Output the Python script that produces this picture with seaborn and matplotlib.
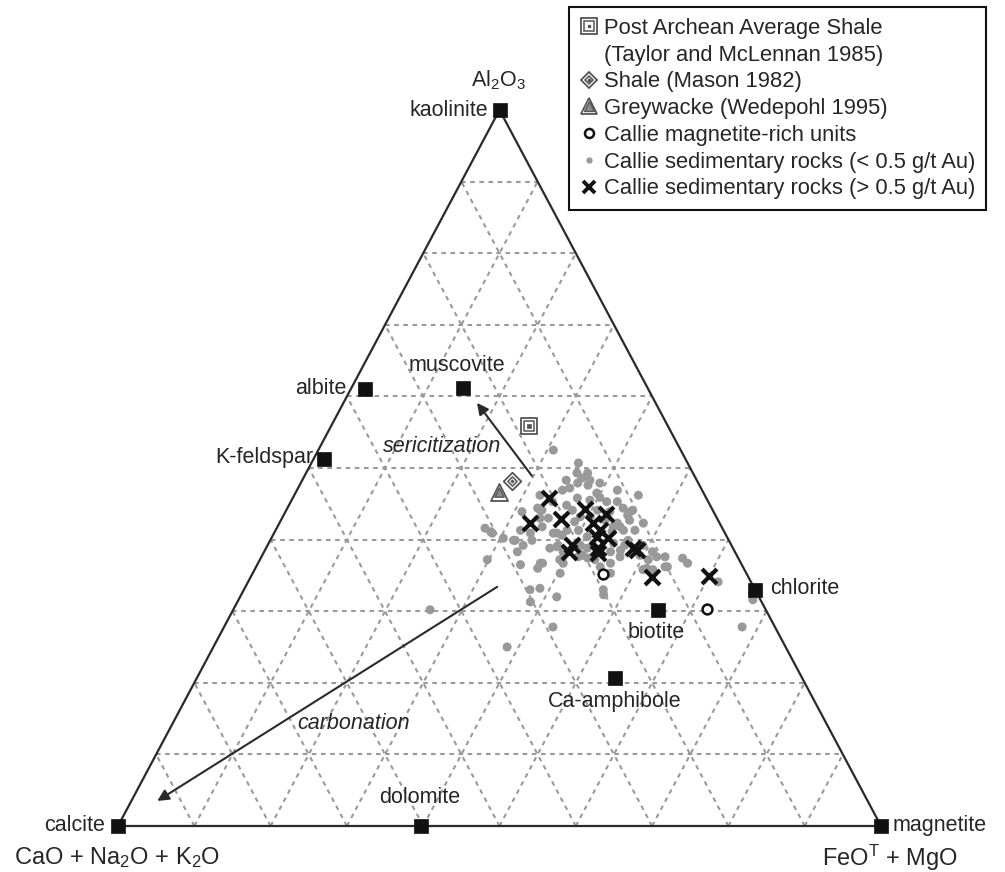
import numpy as np
import pandas as pd
import matplotlib
matplotlib.use("Agg")
import matplotlib.pyplot as plt
import seaborn as sns
from matplotlib.lines import Line2D
from matplotlib.legend_handler import HandlerTuple

# ---------------- data: ternary compositions in % ----------------
# al = Al2O3, fm = FeO^T + MgO, remainder = CaO + Na2O + K2O
mineral_names = ["kaolinite", "albite", "muscovite", "K-feldspar", "chlorite",
                 "biotite", "Ca-amphibole", "dolomite", "calcite", "magnetite"]
mineral_al = [100.0, 61.0, 61.2, 51.3, 33.0, 30.2, 20.7, 0.0, 0.0, 0.0]
mineral_fm = [0.0, 1.9, 14.6, 1.4, 67.0, 55.7, 54.8, 39.7, 0.0, 100.0]

paas_al, paas_fm = [55.9], [25.9]          # Post Archean Average Shale
shale_al, shale_fm = [48.2], [27.5]        # Shale (Mason 1982)
grey_al, grey_fm = [46.6], [26.6]          # Greywacke (Wedepohl 1995)

mag_al = [35.2, 30.3]                      # Callie magnetite-rich units
mag_fm = [46.0, 62.0]

low_al = [52.5, 50.7, 49.3, 49.3, 48.6, 48.3, 47.9, 47.6, 48.3, 47.2,
          46.9, 47.9, 46.9, 46.2, 46.5, 45.9, 45.3, 45.8, 45.5, 45.3,
          44.1, 44.8, 45.3, 44.4, 43.4, 44.1, 42.7, 42.3, 43.0, 43.0,
          43.9, 39.9, 39.2, 39.9, 41.8, 40.9, 40.6, 41.3, 41.3, 40.4,
          39.2, 39.2, 38.8, 36.7, 37.2, 37.8, 38.3, 38.5, 39.2, 39.2,
          37.8, 37.6, 37.6, 36.0, 35.8, 40.2, 46.2, 44.4, 44.1, 43.2,
          41.1, 41.8, 40.9, 38.3, 38.8, 36.2, 37.2, 37.6, 36.7, 36.2,
          37.4, 37.6, 36.7, 36.7, 36.5, 37.4, 36.7, 35.3, 33.0, 33.2,
          32.0, 31.3, 32.3, 41.1, 41.6, 31.6, 34.1, 30.2, 27.8, 25.0,
          37.2, 27.8, 42.3, 41.3, 39.5, 38.3, 35.8, 35.3, 33.0, 38.3,
          40.9, 39.9, 44.1, 40.9, 44.1, 42.7, 42.5, 37.2, 39.9, 43.9,
          41.8, 43.2, 41.3, 41.3, 43.9, 36.2, 36.0, 39.0]
low_fm = [30.8, 35.0, 35.5, 36.9, 36.5, 37.7, 36.3, 37.8, 34.6, 35.6,
          34.8, 39.2, 42.0, 45.1, 39.5, 40.2, 41.4, 37.3, 39.1, 34.3,
          33.5, 36.4, 42.8, 44.0, 45.1, 45.4, 45.7, 44.3, 33.8, 34.9,
          31.0, 31.9, 33.5, 34.3, 34.7, 36.6, 37.9, 38.2, 39.7, 41.3,
          41.0, 38.1, 37.2, 37.3, 39.3, 42.0, 45.4, 46.6, 46.8, 49.2,
          49.5, 51.8, 52.9, 51.3, 52.2, 30.4, 32.2, 32.8, 37.5, 39.0,
          44.2, 44.9, 33.6, 39.2, 42.1, 53.6, 50.9, 47.0, 46.2, 45.1,
          42.9, 41.5, 40.0, 37.0, 34.5, 55.3, 56.3, 40.3, 37.5, 38.7,
          41.5, 38.4, 47.5, 28.3, 27.3, 67.4, 61.6, 25.8, 43.1, 38.5,
          29.8, 67.9, 47.7, 45.6, 45.2, 50.9, 50.9, 46.9, 47.1, 33.2,
          28.6, 32.1, 33.3, 37.1, 40.8, 42.5, 38.6, 43.9, 46.9, 42.5,
          44.0, 40.3, 32.1, 47.1, 45.2, 53.9, 37.0, 38.0]

high_al = [45.8, 42.3, 42.9, 44.3, 43.6, 42.3, 41.3, 40.4, 40.2, 38.8,
           39.2, 38.3, 38.8, 38.5, 34.8, 34.9, 38.1]
high_fm = [33.6, 32.9, 36.6, 39.0, 42.2, 41.1, 42.5, 42.6, 44.1, 43.5,
           39.9, 40.0, 48.1, 48.8, 52.6, 60.0, 43.8]

arrow_names = ["sericitization", "carbonation"]
arrow_tail_al = [48.9, 33.4]
arrow_tail_fm = [29.8, 33.0]
arrow_head_al = [59.1, 3.5]
arrow_head_fm = [17.5, 3.4]

legend_labels = ["Post Archean Average Shale", "(Taylor and McLennan 1985)",
                 "Shale (Mason 1982)", "Greywacke (Wedepohl 1995)",
                 "Callie magnetite-rich units",
                 "Callie sedimentary rocks (< 0.5 g/t Au)",
                 "Callie sedimentary rocks (> 0.5 g/t Au)"]

# ---------------- helpers ----------------
def tern_xy(al, fm):
    al = np.asarray(al, dtype=float) / 100.0
    fm = np.asarray(fm, dtype=float) / 100.0
    return fm + al / 2.0, al

def tern_df(al, fm):
    x, y = tern_xy(al, fm)
    return pd.DataFrame({"x": x, "y": y})

W, H = 1005, 872
X0, XS, Y0, YS = 118, 763, 826, 716   # layout of the triangle in the figure

def px(x, y):
    return (x - X0) / XS, (Y0 - y) / YS

# ---------------- style ----------------
sns.set_theme(style="white")
plt.rcParams["font.family"] = ["Liberation Sans", "DejaVu Sans"]
plt.rcParams["mathtext.default"] = "regular"
TXT = "#262626"

fig = plt.figure(figsize=(W / 100, H / 100), dpi=100)
ax = fig.add_axes([0, 0, 1, 1])
ax.set_xlim(-X0 / XS, (W - X0) / XS)
ax.set_ylim(-(H - Y0) / YS, Y0 / YS)
ax.axis("off")

# grid
gkw = dict(color="#9a9a9a", lw=1.5, ls=(0, (2.2, 2.2)), zorder=1)
for k in range(1, 10):
    t = k * 10.0
    for (a1, f1, a2, f2) in [(t, 0, t, 100 - t), (0, t, 100 - t, t), (0, 100 - t, 100 - t, 0)]:
        xs, ys = tern_xy([a1, a2], [f1, f2])
        ax.plot(xs, ys, **gkw)

# triangle
xs, ys = tern_xy([100, 0, 0, 100], [0, 0, 100, 0])
ax.plot(xs, ys, color="#2a2a2a", lw=1.6, zorder=2, solid_joinstyle="miter")

# arrows
for i in range(len(arrow_names)):
    hx, hy = tern_xy(arrow_head_al[i], arrow_head_fm[i])
    tx, ty = tern_xy(arrow_tail_al[i], arrow_tail_fm[i])
    ax.annotate("", xy=(hx, hy), xytext=(tx, ty),
                arrowprops=dict(arrowstyle="-|>", color="#2a2a2a", lw=1.5,
                                mutation_scale=17, shrinkA=0, shrinkB=0), zorder=2)

ax.text(*px(442, 447), "sericitization", style="italic", fontsize=15.5,
        color=TXT, ha="center", va="center")
ax.text(*px(353.5, 723), "carbonation", style="italic", fontsize=15.5,
        color=TXT, ha="center", va="center")

# data points
sns.scatterplot(data=tern_df(low_al, low_fm), x="x", y="y", ax=ax, s=42,
                color="#999999", edgecolor="none", linewidth=0, legend=False, zorder=3)
sns.scatterplot(data=tern_df(high_al, high_fm), x="x", y="y", ax=ax, marker="x",
                s=115, color="#111111", linewidth=3.0, legend=False, zorder=5)
sns.scatterplot(data=tern_df(mag_al, mag_fm), x="x", y="y", ax=ax, marker="o",
                s=50, color="white", edgecolor="#111111", linewidth=1.8,
                legend=False, zorder=6)

REF = "#555555"
dpa = tern_df(paas_al, paas_fm)
sns.scatterplot(data=dpa, x="x", y="y", ax=ax, marker="s", s=135, color="white",
                edgecolor=REF, linewidth=1.3, legend=False, zorder=6)
sns.scatterplot(data=dpa, x="x", y="y", ax=ax, marker="s", s=45, color="white",
                edgecolor=REF, linewidth=1.1, legend=False, zorder=6)
sns.scatterplot(data=dpa, x="x", y="y", ax=ax, marker="s", s=5, color=REF,
                edgecolor=REF, linewidth=0.5, legend=False, zorder=6)
dsh = tern_df(shale_al, shale_fm)
sns.scatterplot(data=dsh, x="x", y="y", ax=ax, marker="D", s=80, color="white",
                edgecolor=REF, linewidth=1.3, legend=False, zorder=6)
sns.scatterplot(data=dsh, x="x", y="y", ax=ax, marker="D", s=22, color="white",
                edgecolor=REF, linewidth=1.1, legend=False, zorder=6)
sns.scatterplot(data=dsh, x="x", y="y", ax=ax, marker="D", s=3, color=REF,
                edgecolor=REF, linewidth=0.5, legend=False, zorder=6)
dgw = tern_df(grey_al, grey_fm)
sns.scatterplot(data=dgw, x="x", y="y", ax=ax, marker="^", s=150, color="white",
                edgecolor=REF, linewidth=1.3, legend=False, zorder=6)
sns.scatterplot(data=dgw, x="x", y="y", ax=ax, marker="^", s=45, color="#8a8a8a",
                edgecolor=REF, linewidth=1.0, legend=False, zorder=6)

# minerals
dmin = tern_df(mineral_al, mineral_fm)
sns.scatterplot(data=dmin, x="x", y="y", ax=ax, marker="s", s=110, color="#111111",
                edgecolor="#111111", linewidth=0.5, legend=False, zorder=7)

label_layout = {
    "kaolinite": (-11, 0, "right"),
    "albite": (-19, 1, "right"),
    "muscovite": (-6, 22, "center"),
    "K-feldspar": (-11, 1, "right"),
    "chlorite": (15, 1, "left"),
    "biotite": (-2, -23, "center"),
    "Ca-amphibole": (0, -24, "center"),
    "dolomite": (-1, 29, "center"),
    "calcite": (-13, 1, "right"),
    "magnetite": (12, 1, "left"),
}
for name, x, y in zip(mineral_names, dmin["x"], dmin["y"]):
    dx, dy, ha = label_layout[name]
    ax.annotate(name, xy=(x, y), xytext=(dx, dy), textcoords="offset pixels",
                ha=ha, va="center", fontsize=15.5, color=TXT, zorder=8)

# corner labels
ax.text(*px(498, 80), r"Al$_2$O$_3$", fontsize=15.5, color=TXT, ha="center", va="center")
ax.text(*px(14, 858), r"CaO + Na$_2$O + K$_2$O", fontsize=17, color=TXT,
        ha="left", va="center")
ax.text(*px(890, 858), r"FeO$^{T}$ + MgO", fontsize=17, color=TXT,
        ha="center", va="center")

# legend
def mk(**kw):
    base = dict(ls="none")
    base.update(kw)
    return Line2D([], [], **base)

h_paas = (mk(marker="s", ms=11.5, mfc="white", mec=REF, mew=1.3),
          mk(marker="s", ms=6.5, mfc="white", mec=REF, mew=1.1),
          mk(marker="s", ms=2.0, mfc=REF, mec=REF))
h_blank = mk(marker="", alpha=0)
h_shale = (mk(marker="D", ms=8.5, mfc="white", mec=REF, mew=1.3),
           mk(marker="D", ms=4.5, mfc="white", mec=REF, mew=1.1),
           mk(marker="D", ms=1.6, mfc=REF, mec=REF))
h_grey = (mk(marker="^", ms=12, mfc="white", mec=REF, mew=1.3),
          mk(marker="^", ms=6.5, mfc="#8a8a8a", mec=REF, mew=1.0))
h_mag = mk(marker="o", ms=6.5, mfc="white", mec="#111111", mew=1.8)
h_low = mk(marker="o", ms=4.5, mfc="#999999", mec="none")
h_high = mk(marker="x", ms=9, mec="#111111", mew=2.8)

leg = ax.legend(handles=[h_paas, h_blank, h_shale, h_grey, h_mag, h_low, h_high],
                labels=legend_labels, loc="upper left",
                bbox_to_anchor=(569 / W, 1 - 7 / H), bbox_transform=fig.transFigure,
                borderaxespad=0, frameon=True, fancybox=False, framealpha=1,
                edgecolor="#111111", fontsize=15.8, handlelength=0.8,
                handletextpad=0.3, borderpad=0.5, labelspacing=0.26,
                handler_map={tuple: HandlerTuple(ndivide=1)})
leg.get_frame().set_linewidth(1.5)
for t in leg.get_texts():
    t.set_color(TXT)
leg.set_zorder(10)

fig.savefig("out.png", dpi=100)
